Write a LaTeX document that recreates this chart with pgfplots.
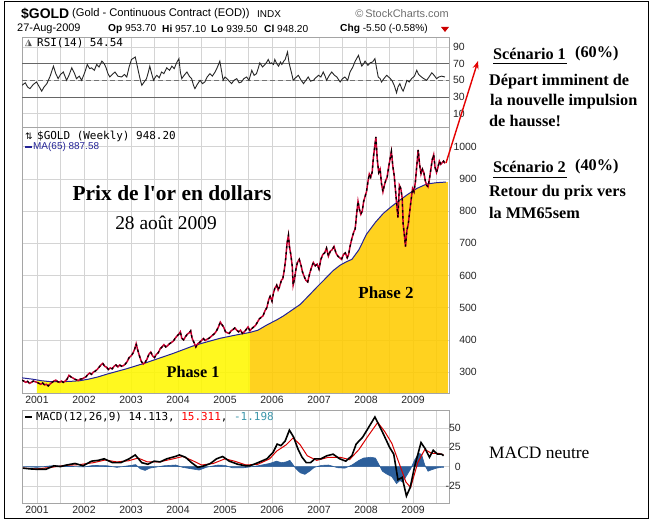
\documentclass[border=0pt]{standalone}
\usepackage{fontspec}
\setmainfont{Liberation Sans}
\newfontfamily\timesf{Liberation Serif}
\newfontfamily\monof{DejaVu Sans Mono}
\newfontfamily\dejavu{DejaVu Sans}
\usepackage{pgfplots}
\pgfplotsset{compat=1.18}
\usetikzlibrary{arrows.meta}
\definecolor{phaseone}{RGB}{255,248,0}
\definecolor{phasetwo}{RGB}{255,204,0}
\definecolor{gridc}{RGB}{212,212,212}
\definecolor{framec}{RGB}{165,165,165}
\definecolor{pricered}{RGB}{200,0,50}
\definecolor{manavy}{RGB}{35,35,150}
\definecolor{macdblue}{RGB}{45,95,155}
\definecolor{tealc}{RGB}{60,150,170}
\definecolor{scgray}{RGB}{110,110,110}

\pgfplotsset{
  panel/.style={
    scale only axis, width=427bp,
    xmin=2000.681, xmax=2009.766,
    axis line style={framec, line width=0.7bp},
    xtick={2001,2002,2003,2004,2005,2006,2007,2008,2009},
    minor xtick={2001.5,2002.5,2003.5,2004.5,2005.5,2006.5,2007.5,2008.5,2009.5},
    xmajorgrids, xminorgrids, ymajorgrids,
    major grid style={gridc, line width=0.6bp},
    minor grid style={gridc, line width=0.6bp},
    major tick length=0pt, minor tick length=0pt,
    yticklabel pos=right,
    tick label style={font=\fontsize{10.5}{12}\selectfont, text=black!85},
    yticklabel style={anchor=east, inner sep=0pt},
  },
  years/.style={xticklabels={2001,2002,2003,2004,2005,2006,2007,2008,2009}},
}

\pgfplotstableread{
x y
2000.68 275
2000.72 272
2000.76 268
2000.80 271
2000.84 265
2000.88 268
2000.92 272
2000.96 270
2001.00 268
2001.04 265
2001.08 262
2001.12 266
2001.16 260
2001.20 262
2001.24 257
2001.28 263
2001.32 268
2001.36 272
2001.40 275
2001.44 270
2001.48 268
2001.52 272
2001.56 268
2001.60 272
2001.64 278
2001.68 290
2001.72 285
2001.76 282
2001.80 278
2001.84 276
2001.88 274
2001.92 278
2001.96 279
2002.00 282
2002.04 285
2002.08 292
2002.12 297
2002.16 293
2002.20 300
2002.24 303
2002.28 308
2002.32 315
2002.36 322
2002.40 327
2002.44 318
2002.48 315
2002.52 308
2002.56 313
2002.60 310
2002.64 318
2002.68 322
2002.72 316
2002.76 322
2002.80 318
2002.84 320
2002.88 325
2002.92 333
2002.96 345
2003.00 350
2003.04 358
2003.08 372
2003.11 388
2003.14 370
2003.18 350
2003.22 333
2003.26 325
2003.30 330
2003.34 340
2003.38 355
2003.42 362
2003.46 350
2003.50 345
2003.54 355
2003.58 360
2003.62 372
2003.66 378
2003.70 385
2003.74 378
2003.78 382
2003.82 388
2003.86 392
2003.90 396
2003.94 405
2003.98 412
2004.02 418
2004.05 425
2004.08 405
2004.12 400
2004.16 410
2004.20 418
2004.24 422
2004.27 428
2004.30 405
2004.34 392
2004.38 378
2004.42 388
2004.46 392
2004.50 398
2004.54 404
2004.58 398
2004.62 402
2004.66 405
2004.70 410
2004.74 415
2004.78 420
2004.82 428
2004.86 440
2004.90 455
2004.93 448
2004.97 440
2005.01 425
2005.05 422
2005.09 420
2005.13 428
2005.17 432
2005.21 437
2005.25 430
2005.29 425
2005.33 430
2005.37 420
2005.41 425
2005.45 432
2005.49 440
2005.53 428
2005.57 435
2005.61 440
2005.65 445
2005.69 455
2005.73 465
2005.77 470
2005.81 475
2005.85 490
2005.89 500
2005.93 525
2005.96 535
2006.00 520
2006.03 545
2006.06 560
2006.10 570
2006.13 555
2006.16 565
2006.20 585
2006.23 590
2006.26 615
2006.29 650
2006.32 700
2006.35 725
2006.37 690
2006.40 665
2006.43 630
2006.45 570
2006.48 590
2006.51 620
2006.54 640
2006.58 650
2006.62 630
2006.65 610
2006.69 595
2006.72 585
2006.76 580
2006.80 605
2006.84 625
2006.88 640
2006.92 630
2006.96 635
2007.00 620
2007.04 650
2007.08 665
2007.12 670
2007.16 685
2007.20 660
2007.24 675
2007.28 680
2007.32 690
2007.36 670
2007.40 660
2007.44 655
2007.48 650
2007.52 665
2007.56 670
2007.60 655
2007.63 665
2007.66 690
2007.70 715
2007.74 735
2007.77 745
2007.80 790
2007.83 830
2007.86 805
2007.89 790
2007.92 800
2007.95 830
2007.98 845
2008.01 860
2008.04 890
2008.07 915
2008.10 905
2008.13 920
2008.16 970
2008.19 1005
2008.21 1030
2008.24 960
2008.27 920
2008.30 930
2008.33 885
2008.36 860
2008.39 880
2008.42 895
2008.45 905
2008.48 935
2008.51 960
2008.54 985
2008.57 940
2008.60 910
2008.63 860
2008.66 810
2008.68 780
2008.71 880
2008.74 870
2008.77 840
2008.79 760
2008.82 720
2008.84 690
2008.87 740
2008.90 760
2008.93 800
2008.96 835
2008.99 870
2009.02 860
2009.05 890
2009.08 940
2009.11 990
2009.14 945
2009.17 915
2009.20 930
2009.23 920
2009.26 895
2009.29 880
2009.32 875
2009.35 900
2009.38 930
2009.41 960
2009.44 975
2009.47 935
2009.50 920
2009.53 935
2009.56 955
2009.59 945
2009.62 950
2009.65 955
2009.68 948
}\price

\pgfplotstableread{
x y
2000.68 282
2000.90 278
2001.10 273
2001.30 270
2001.50 270
2001.70 271
2001.90 273
2002.10 278
2002.30 285
2002.50 294
2002.70 302
2002.90 310
2003.10 319
2003.30 328
2003.50 338
2003.70 348
2003.90 358
2004.10 369
2004.30 380
2004.50 389
2004.70 397
2004.90 405
2005.10 411
2005.30 417
2005.53 423
2005.70 430
2005.90 447
2006.10 462
2006.24 474
2006.40 490
2006.60 510
2006.80 540
2006.95 563
2007.10 585
2007.30 615
2007.45 632
2007.59 643
2007.70 650
2007.85 680
2008.01 728
2008.20 765
2008.37 793
2008.55 815
2008.72 834
2008.90 853
2009.08 870
2009.29 884
2009.50 888
2009.70 890
}\ma

\pgfplotstableread{
x y
2001.00 274
2001.10 273
2001.30 270
2001.50 270
2001.70 271
2001.90 273
2002.10 278
2002.30 285
2002.50 294
2002.70 302
2002.90 310
2003.10 319
2003.30 328
2003.50 338
2003.70 348
2003.90 358
2004.10 369
2004.30 380
2004.50 389
2004.70 397
2004.90 405
2005.10 411
2005.30 417
2005.53 423
}\phaseone

\pgfplotstableread{
x y
2005.53 423
2005.70 430
2005.90 447
2006.10 462
2006.24 474
2006.40 490
2006.60 510
2006.80 540
2006.95 563
2007.10 585
2007.30 615
2007.45 632
2007.59 643
2007.70 650
2007.85 680
2008.01 728
2008.20 765
2008.37 793
2008.55 815
2008.72 834
2008.90 853
2009.08 870
2009.29 884
2009.50 888
2009.74 890
}\phasetwo

\pgfplotstableread{
x y
2000.68 44
2000.75 47
2000.80 42
2000.85 40
2000.92 45
2000.99 48
2001.05 42
2001.10 37
2001.15 42
2001.21 46
2001.28 55
2001.35 67
2001.40 58
2001.45 52
2001.50 57
2001.56 60
2001.63 50
2001.68 56
2001.74 65
2001.80 58
2001.84 52
2001.90 55
2001.95 50
2002.02 60
2002.07 69
2002.12 64
2002.16 65
2002.22 62
2002.27 69
2002.32 66
2002.38 73
2002.43 70
2002.47 65
2002.51 58
2002.55 54
2002.60 57
2002.66 60
2002.72 55
2002.80 54
2002.86 57
2002.91 54
2002.96 66
2003.01 75
2003.09 78
2003.13 68
2003.16 60
2003.20 50
2003.23 44
2003.28 48
2003.33 52
2003.37 60
2003.40 67
2003.44 58
2003.48 50
2003.52 54
2003.55 56
2003.60 53
2003.65 60
2003.70 58
2003.76 65
2003.82 62
2003.87 67
2003.92 64
2003.97 71
2004.02 76
2004.05 60
2004.08 52
2004.13 56
2004.19 60
2004.24 55
2004.29 52
2004.33 44
2004.36 40
2004.41 45
2004.47 50
2004.52 46
2004.57 48
2004.62 54
2004.68 58
2004.73 55
2004.79 60
2004.84 66
2004.89 73
2004.93 60
2004.96 50
2005.00 54
2005.04 52
2005.09 49
2005.14 46
2005.19 50
2005.25 52
2005.30 47
2005.35 48
2005.40 52
2005.46 54
2005.51 50
2005.57 62
2005.62 56
2005.67 58
2005.71 65
2005.74 71
2005.80 66
2005.85 69
2005.89 72
2005.92 75
2005.96 70
2005.99 71
2006.03 69
2006.06 75
2006.10 70
2006.14 67
2006.18 72
2006.21 69
2006.25 73
2006.28 75
2006.33 84
2006.36 72
2006.38 67
2006.42 58
2006.45 50
2006.50 53
2006.56 56
2006.61 51
2006.67 46
2006.72 50
2006.77 54
2006.82 49
2006.88 50
2006.93 53
2006.99 56
2007.04 54
2007.09 60
2007.13 55
2007.16 50
2007.22 56
2007.27 60
2007.33 56
2007.38 54
2007.45 48
2007.50 52
2007.55 54
2007.61 50
2007.66 60
2007.72 66
2007.77 73
2007.84 80
2007.88 72
2007.91 67
2007.95 70
2007.98 73
2008.04 68
2008.09 71
2008.14 72
2008.19 76
2008.22 66
2008.26 54
2008.30 52
2008.33 48
2008.38 52
2008.44 56
2008.50 53
2008.55 50
2008.60 44
2008.65 35
2008.68 42
2008.72 46
2008.76 40
2008.79 37
2008.83 43
2008.87 50
2008.92 48
2008.97 52
2009.03 55
2009.08 62
2009.12 57
2009.18 54
2009.23 52
2009.29 50
2009.34 54
2009.40 59
2009.45 56
2009.50 52
2009.55 54
2009.61 55
2009.68 54
}\rsi

\pgfplotstableread{
x y
2000.70 -2
2000.85 -3
2001.00 -3.5
2001.19 -3.5
2001.36 1
2001.50 0
2001.63 2
2001.81 4
2001.98 1
2002.16 7
2002.30 8
2002.43 10
2002.61 5
2002.78 5
2002.96 10
2003.09 15
2003.23 5
2003.36 3
2003.49 7
2003.62 6
2003.76 10
2003.94 13
2004.03 15
2004.16 12
2004.29 5
2004.42 -1
2004.56 1
2004.69 4
2004.82 10
2004.95 13
2005.09 7
2005.27 3
2005.44 1
2005.53 1
2005.70 5
2005.89 10
2006.02 18
2006.11 29
2006.19 27
2006.28 33
2006.37 47
2006.46 38
2006.55 23
2006.64 12
2006.73 5
2006.82 5
2006.91 10
2007.04 10
2007.17 14
2007.30 16
2007.44 10
2007.57 7
2007.70 14
2007.79 29
2007.93 38
2008.06 51
2008.19 64
2008.28 53
2008.37 42
2008.50 25
2008.59 16
2008.68 -17
2008.77 -14
2008.86 -38
2008.94 -27
2009.03 -1
2009.17 31
2009.26 23
2009.35 12
2009.43 21
2009.52 16
2009.61 16
2009.65 14
}\macd

\pgfplotstableread{
x y
2000.70 -2
2001.00 -3
2001.30 -1
2001.60 1.5
2001.90 2.5
2002.20 5
2002.45 8.5
2002.70 6
2002.95 7.5
2003.15 11
2003.35 6
2003.60 6
2003.90 10
2004.10 13
2004.30 8
2004.50 2
2004.75 4
2005.00 10
2005.20 7
2005.45 2
2005.70 3
2005.95 10
2006.10 20
2006.30 28
2006.45 37
2006.60 28
2006.75 14
2006.95 8
2007.20 12
2007.45 12
2007.65 9
2007.85 22
2008.05 40
2008.25 57
2008.40 45
2008.55 30
2008.70 5
2008.85 -20
2008.95 -27
2009.10 5
2009.25 22
2009.40 17
2009.55 17
2009.65 15
}\signal

\pgfplotstableread{
x y
2000.70 0
2001.00 -1
2001.30 1
2001.60 0.5
2002.00 -0.5
2002.20 1.5
2002.50 1
2002.70 -1
2003.00 1.5
2003.10 2.5
2003.20 -3
2003.30 -5
2003.40 -2
2003.70 1
2003.95 2
2004.10 -1
2004.30 -3
2004.45 -4.5
2004.60 -1
2004.85 2
2005.00 1.5
2005.15 -1.5
2005.40 -1.5
2005.70 1
2005.95 4
2006.10 7
2006.20 5
2006.30 6
2006.38 8
2006.50 -2
2006.60 -8
2006.70 -10
2006.80 -6
2006.90 -1
2007.05 1.5
2007.20 2
2007.40 -1.5
2007.55 -2
2007.70 2
2007.85 8
2007.95 11
2008.10 12
2008.20 11
2008.28 2
2008.35 -6
2008.45 -10
2008.55 -13
2008.65 -22
2008.72 -18
2008.78 -20
2008.86 -12
2008.95 -3
2009.03 8
2009.12 17
2009.18 16
2009.25 2
2009.32 -6
2009.40 -4
2009.50 -2
2009.60 -1
2009.65 -1
}\hist

\begin{document}
\begin{tikzpicture}[x=1bp,y=1bp]
\useasboundingbox (0,0) rectangle (653,526);
\fill[white] (0,0) rectangle (653,526);

% RSI panel
\begin{axis}[panel, at={(22bp,399bp)}, anchor=south west, height=90bp,
  ymin=-6, ymax=102, ytick={10,30,50,70,90},
  yticklabels={10,30,50,70,90}, xticklabels={},
  yticklabel style={xshift=16bp}]
\addplot[black!60, line width=0.9bp] coordinates {(2000.681,70) (2009.766,70)};
\addplot[black!60, line width=0.9bp] coordinates {(2000.681,30) (2009.766,30)};
\addplot[black!55, line width=0.8bp, dash pattern=on 5bp off 3bp] coordinates {(2000.681,50) (2009.766,50)};
\addplot[black!85, line width=0.9bp] table {\rsi};
\end{axis}

% Price panel
\begin{axis}[panel, years, at={(22bp,133bp)}, anchor=south west, height=266bp,
  ymin=235, ymax=1061, ytick={300,400,500,600,700,800,900,1000},
  yticklabels={300,400,500,600,700,800,900,1000},
  yticklabel style={xshift=28bp}]
\addplot[draw=none, fill=phaseone, fill opacity=0.88] table {\phaseone} \closedcycle;
\addplot[draw=none, fill=phasetwo, fill opacity=0.88] table {\phasetwo} \closedcycle;
\addplot[manavy, line width=1bp] table {\ma};
\addplot[pricered, line width=1.5bp] table {\price};
\addplot[black, line width=1.3bp, dash pattern=on 2.5bp off 3.5bp] table {\price};
\end{axis}

% MACD panel
\begin{axis}[panel, years, at={(22bp,23bp)}, anchor=south west, height=93bp,
  ymin=-47, ymax=73, ytick={-25,0,25,50},
  yticklabels={-25,0,25,50},
  yticklabel style={xshift=12bp}]
\addplot[draw=macdblue, line width=0.6bp, fill=macdblue] table {\hist} \closedcycle;
\addplot[red!85!black, line width=1bp] table {\signal};
\addplot[black, line width=1.6bp] table {\macd};
\end{axis}

% outer frame
\draw[black, line width=1bp] (4,7) rectangle (648,524);

% header
\node[anchor=west, inner sep=0pt, font=\bfseries\fontsize{14}{16}\selectfont] at (21,512) {\$GOLD};
\node[anchor=west, inner sep=0pt, font=\fontsize{11.2}{13}\selectfont] at (72,512) {(Gold - Continuous Contract (EOD))};
\node[anchor=west, inner sep=0pt, font=\fontsize{10}{12}\selectfont] at (257,512) {INDX};
\node[anchor=east, inner sep=0pt, text=scgray, font=\fontsize{11}{13}\selectfont] at (449,512) {\textcopyright\,StockCharts.com};
\node[anchor=west, inner sep=0pt, font=\fontsize{11}{13}\selectfont] at (17,497) {27-Aug-2009};
\node[anchor=west, inner sep=0pt, font=\fontsize{10.2}{12}\selectfont] at (108,497) {\textbf{Op} 953.70};
\node[anchor=west, inner sep=0pt, font=\fontsize{10.2}{12}\selectfont] at (162,497) {\textbf{Hi} 957.10};
\node[anchor=west, inner sep=0pt, font=\fontsize{10.2}{12}\selectfont] at (211,497) {\textbf{Lo} 939.50};
\node[anchor=west, inner sep=0pt, font=\fontsize{10.2}{12}\selectfont] at (264,497) {\textbf{Cl} 948.20};
\node[anchor=west, inner sep=0pt, font=\fontsize{10.2}{12}\selectfont] at (340,497) {\textbf{Chg} -5.50 (-0.58\%)};
\fill[red!80!black] (441,499) -- (449,499) -- (445,494) -- cycle;

% panel titles
\node[anchor=west, inner sep=0pt, font=\dejavu\fontsize{9}{10}\selectfont, text=black!70] at (25,483) {◮};
\node[anchor=west, inner sep=0pt, font=\monof\fontsize{11}{13}\selectfont] at (37,483) {RSI(14) 54.54};
\node[anchor=west, inner sep=0pt, font=\dejavu\fontsize{9}{10}\selectfont] at (25,390) {⇅};
\node[anchor=west, inner sep=0pt, font=\monof\fontsize{11}{13}\selectfont] at (37,390) {\$GOLD (Weekly) 948.20};
\draw[manavy, line width=1.6bp] (25,379) -- (32,379);
\node[anchor=west, inner sep=0pt, text=manavy, font=\fontsize{10}{12}\selectfont] at (33,379) {MA(65) 887.58};
\draw[black, line width=1.8bp] (25,109) -- (32,109);
\node[anchor=west, inner sep=0pt, font=\monof\fontsize{11}{13}\selectfont] at (36,109) {MACD(12,26,9) 14.113, \textcolor{red}{15.311}, \textcolor{tealc}{-1.198}};

% chart annotations
\node[inner sep=0pt, font=\timesf\bfseries\fontsize{21.5}{24}\selectfont] at (172,333) {Prix de l'or en dollars};
\node[inner sep=0pt, font=\timesf\fontsize{19.5}{22}\selectfont] at (166,303) {28 août 2009};
\node[inner sep=0pt, font=\timesf\bfseries\fontsize{16.3}{18}\selectfont] at (193,154) {Phase 1};
\node[inner sep=0pt, font=\timesf\bfseries\fontsize{17}{19}\selectfont] at (386,233) {Phase 2};

% arrow
\draw[red!90!black, line width=1.4bp, -{Stealth[length=8bp,width=6bp]}] (446,363) -- (478,465);

% right texts
\begin{scope}[every node/.style={anchor=west, inner sep=0pt, font=\timesf\bfseries\fontsize{16.3}{18}\selectfont}]
\node at (493,472) {Scénario 1};
\draw[black, line width=0.8bp] (493,463) -- (567,463);
\node at (575,472) {(60\%)};
\node at (489,444) {Départ imminent de};
\node at (490,424) {la nouvelle impulsion};
\node at (489,405) {de hausse!};
\node at (493,359) {Scénario 2};
\draw[black, line width=0.8bp] (493,349) -- (567,349);
\node at (575,359) {(40\%)};
\node at (489,333) {Retour du prix vers};
\node at (489,313) {la MM65sem};
\end{scope}
\node[anchor=west, inner sep=0pt, font=\timesf\fontsize{17.5}{20}\selectfont] at (489,73) {MACD neutre};
\end{tikzpicture}
\end{document}
